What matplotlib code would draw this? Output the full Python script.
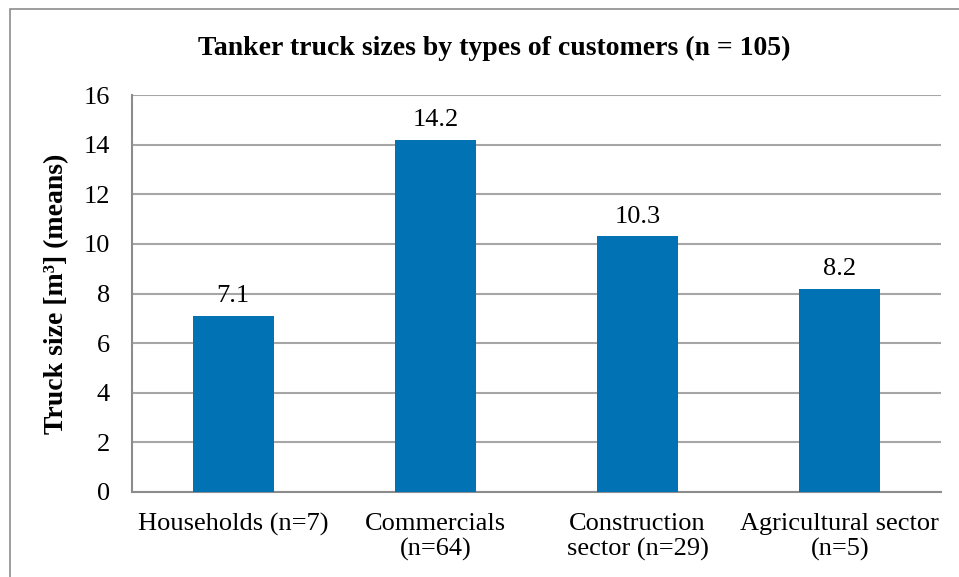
import matplotlib.pyplot as plt
from matplotlib.patches import Rectangle
import numpy as np

categories = ["Households (n=7)", "Commercials\n(n=64)", "Construction\nsector (n=29)", "Agricultural sector\n(n=5)"]
means = [7.1, 14.2, 10.3, 8.2]
yticks = [0, 2, 4, 6, 8, 10, 12, 14, 16]

BAR_COLOR = "#0173B4"
GRID_COLOR = "#A6A6A6"

plt.rcParams.update({
    "font.family": ["Liberation Serif", "DejaVu Serif"],
    "font.size": 19,
})

fig = plt.figure(figsize=(9.59, 5.77), dpi=100)
ax = fig.add_axes([132 / 959, 1 - 492 / 577, (941 - 132) / 959, (492 - 95) / 577])

# outer chart frame (runs off the right and bottom edges)
fig.patches.append(Rectangle((10 / 959, -0.05), 1.0, 1 - 9 / 577 + 0.05,
                             transform=fig.transFigure, fill=False,
                             edgecolor="#8C8C8C", linewidth=1.2))

x = np.arange(len(categories))
bars = ax.bar(x, means, width=0.4, color=BAR_COLOR, zorder=3)
for rect, v in zip(bars, means):
    ax.annotate(f"{v:.1f}", (rect.get_x() + rect.get_width() / 2, v),
                xytext=(0, 6), textcoords="offset points",
                ha="center", va="bottom", fontsize=19)

ax.set_xlim(-0.5, len(categories) - 0.5)
ax.set_ylim(0, 16)
ax.set_yticks(yticks)
ax.set_xticks(x)
ax.set_xticklabels(categories, linespacing=1.15)
ax.tick_params(axis="both", length=0, labelsize=19)
ax.tick_params(axis="x", pad=15)
ax.tick_params(axis="y", pad=16)
ax.yaxis.grid(True, color=GRID_COLOR, linewidth=1.5, zorder=0)
ax.set_axisbelow(True)

for side in ["top", "right"]:
    ax.spines[side].set_visible(False)
for side in ["left", "bottom"]:
    ax.spines[side].set_color("#8C8C8C")
    ax.spines[side].set_linewidth(1.5)

ax.set_ylabel("Truck size [m³] (means)", fontweight="bold", fontsize=20, labelpad=10)
fig.text(494 / 959, 1 - 48 / 577, "Tanker truck sizes by types of customers (n = 105)",
         ha="center", va="center", fontweight="bold", fontsize=20)

fig.savefig("out.png", dpi=100)
